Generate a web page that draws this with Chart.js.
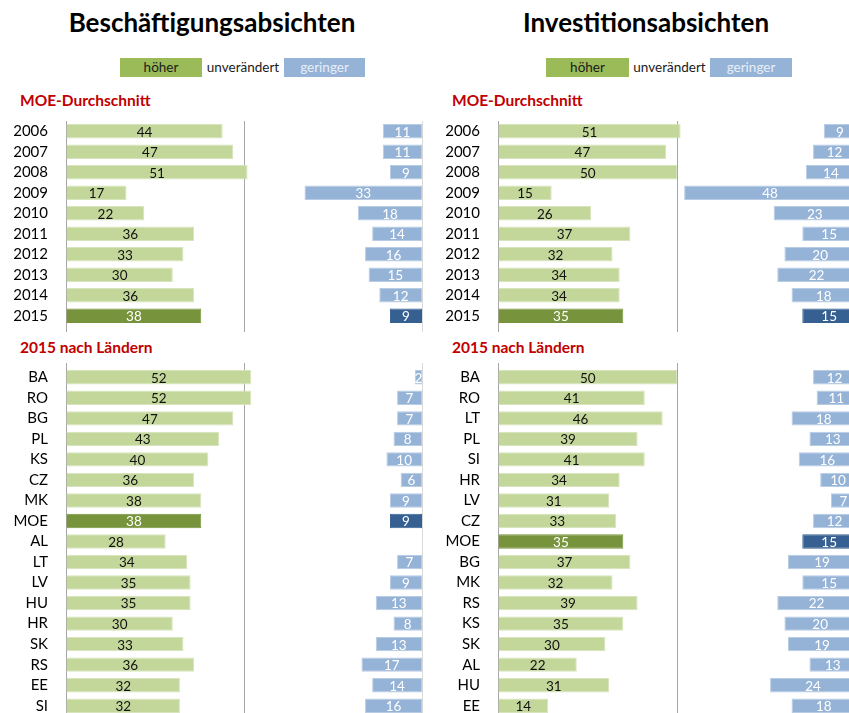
<!DOCTYPE html>
<html><head><meta charset="utf-8">
<script src="https://cdn.jsdelivr.net/npm/chart.js@4"></script>
<style>
html,body{margin:0;padding:0;width:849px;height:713px;overflow:hidden;background:#fff;font-family:Lato,"Open Sans",sans-serif;}
.abs{position:absolute;white-space:nowrap;}
.title{font-weight:bold;font-size:26px;line-height:26px;color:#000;transform:translateX(-50%);}
.sec{font-weight:bold;font-size:15.5px;line-height:15px;color:#c00000;}
.lg{font-size:13.5px;line-height:19px;height:19px;text-align:center;}
canvas{position:absolute;}
</style></head><body>
<div class="abs title" style="left:212px;top:9px">Beschäftigungsabsichten</div>
<div class="abs title" style="left:646px;top:9px">Investitionsabsichten</div>

<div class="abs lg" style="left:120px;top:58px;width:82px;background:#9bbb59;color:#1a1a1a">höher</div>
<div class="abs lg" style="left:202px;top:58px;width:82px;color:#1a1a1a">unverändert</div>
<div class="abs lg" style="left:284px;top:58px;width:81px;background:#95b3d7;color:#e8eef7">geringer</div>

<div class="abs lg" style="left:546px;top:58px;width:83px;background:#9bbb59;color:#1a1a1a">höher</div>
<div class="abs lg" style="left:629px;top:58px;width:81px;color:#1a1a1a">unverändert</div>
<div class="abs lg" style="left:710px;top:58px;width:82px;background:#95b3d7;color:#e8eef7">geringer</div>

<div class="abs sec" style="left:20px;top:93px">MOE-Durchschnitt</div>
<div class="abs sec" style="left:452px;top:93px">MOE-Durchschnitt</div>
<div class="abs sec" style="left:20px;top:340px">2015 nach Ländern</div>
<div class="abs sec" style="left:452px;top:340px">2015 nach Ländern</div>

<canvas id="c1" width="430" height="211" style="left:0;top:121px"></canvas>
<canvas id="c2" width="430" height="211" style="left:432px;top:121px"></canvas>
<canvas id="c3" width="430" height="353" style="left:0;top:363px"></canvas>
<canvas id="c4" width="430" height="353" style="left:432px;top:363px"></canvas>

<script>
// ---- data ----
const years = ['2006','2007','2008','2009','2010','2011','2012','2013','2014','2015'];
const empHigherYears = [44,47,51,17,22,36,33,30,36,38];
const empLowerYears  = [11,11,9,33,18,14,16,15,12,9];
const invHigherYears = [51,47,50,15,26,37,32,34,34,35];
const invLowerYears  = [9,12,14,48,23,15,20,22,18,15];

const empCountries = ['BA','RO','BG','PL','KS','CZ','MK','MOE','AL','LT','LV','HU','HR','SK','RS','EE','SI'];
const empHigherCountries = [52,52,47,43,40,36,38,38,28,34,35,35,30,33,36,32,32];
const empLowerCountries  = [2,7,7,8,10,6,9,9,0,7,9,13,8,13,17,14,16];

const invCountries = ['BA','RO','LT','PL','SI','HR','LV','CZ','MOE','BG','MK','RS','KS','SK','AL','HU','EE'];
const invHigherCountries = [50,41,46,39,41,34,31,33,35,37,32,39,35,30,22,31,14];
const invLowerCountries  = [12,11,18,13,16,10,7,12,15,19,15,22,20,19,13,24,18];

// ---- styling ----
const GREEN='#c4d79b', GREEN_D='#77933c', GREEN_B='#d8e4bc';
const BLUE='#95b3d7', BLUE_D='#376092', BLUE_B='#b8cce4';

const valueLabels = {
  id:'valueLabels',
  afterDatasetsDraw(chart){
    const ctx = chart.ctx;
    chart.data.datasets.forEach((ds,i)=>{
      if(!ds.labelColors) return;
      const meta = chart.getDatasetMeta(i);
      meta.data.forEach((el,j)=>{
        const v = ds.data[j];
        if(!v) return;
        const cx = (el.x + el.base)/2;
        ctx.save();
        ctx.font = '13.5px Lato';
        ctx.fillStyle = ds.labelColors[j];
        ctx.textAlign = 'center';
        ctx.textBaseline = 'middle';
        ctx.fillText(String(v), cx, el.y + 1);
        ctx.restore();
      });
    });
  }
};

function gridColor(c){ return (c.tick && c.tick.value === 100) ? '#d9d9d9' : '#a6a6a6'; }

function makeChart(id, labels, higher, lower, hi, padRight, topTick){
  const unchanged = higher.map((h,i)=>100 - h - lower[i]);
  const scales = {
    x: {stacked:true, min:0, max:100, position:'bottom',
        ticks:{display:false, stepSize:50},
        border:{display:false},
        grid:{color:gridColor, lineWidth:1, drawTicks:true, tickLength:topTick?0:6}},
    y: {stacked:true, type:'category',
        ticks:{font:{family:'Lato', size:15}, color:'#000', padding:18, autoSkip:false},
        grid:{display:false, drawTicks:false},
        border:{display:false},
        afterFit(s){ s.width = 66; s.paddingTop = 0; s.paddingBottom = 0; }}
  };
  if(topTick){
    scales.x2 = {type:'linear', min:0, max:100, position:'top',
      ticks:{display:false, stepSize:50}, border:{display:false},
      grid:{color:gridColor, drawOnChartArea:false, drawTicks:true, tickLength:topTick}};
  }
  return new Chart(document.getElementById(id), {
    type:'bar',
    data:{
      labels: labels,
      datasets:[
        {label:'höher', data:higher,
         backgroundColor: higher.map((v,i)=>i===hi?GREEN_D:GREEN),
         borderColor: higher.map((v,i)=>i===hi?GREEN_D:GREEN_B), borderWidth:1,
         labelColors: higher.map((v,i)=>i===hi?'#ffffff':'#111111'),
         barPercentage:0.7, categoryPercentage:1},
        {label:'unverändert', data:unchanged, backgroundColor:'rgba(0,0,0,0)',
         barPercentage:0.7, categoryPercentage:1},
        {label:'geringer', data:lower,
         backgroundColor: lower.map((v,i)=>i===hi?BLUE_D:BLUE),
         borderColor: lower.map((v,i)=>i===hi?BLUE_D:BLUE_B), borderWidth:1, borderSkipped:false,
         labelColors: lower.map(()=>'#ffffff'),
         barPercentage:0.7, categoryPercentage:1}
      ]
    },
    options:{
      indexAxis:'y', responsive:false, animation:false,
      layout:{padding:{left:0, right:padRight, top:0, bottom:0}},
      plugins:{legend:{display:false}, tooltip:{enabled:false}},
      scales: scales
    },
    plugins:[valueLabels]
  });
}

makeChart('c1', years, empHigherYears, empLowerYears, 9, 8, 0);
makeChart('c2', years, invHigherYears, invLowerYears, 9, 6, 0);
makeChart('c3', empCountries, empHigherCountries, empLowerCountries, 7, 8, 4);
makeChart('c4', invCountries, invHigherCountries, invLowerCountries, 8, 6, 4);
</script>
</body></html>
